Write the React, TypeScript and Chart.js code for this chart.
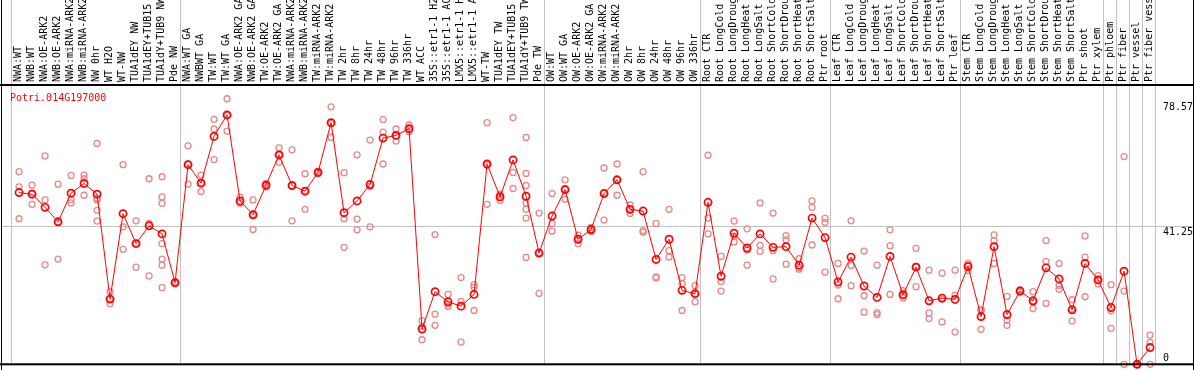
import React, { useEffect, useRef } from "react";
import { Chart, registerables } from "chart.js";

Chart.register(...registerables);

const GENE_ID = "Potri.014G197000";

const categories: string[] = [
  "NWA:WT", "NWB:WT", "NWA:OE-ARK2", "NWB:OE-ARK2", "NWA:miRNA-ARK2", "NWB:miRNA-ARK2",
  "NW 0hr", "WT H2O", "WT-NW", "TUA1dEY NW", "TUA1dEY+TUB15 NW", "TUA1dY+TUB9 NW", "Pde NW",
  "NWA:WT GA", "NWBWT GA", "TW:WT", "TW:WT GA", "NWA:OE-ARK2 GA", "NWB:OE-ARK2 GA",
  "TW:OE-ARK2", "TW:OE-ARK2 GA", "NWA:miRNA-ARK2 GA", "NWB:miRNA-ARK2 GA", "TW:miRNA-ARK2",
  "TW:miRNA-ARK2 GA", "TW 2hr", "TW 8hr", "TW 24hr", "TW 48hr", "TW 96hr", "TW 336hr",
  "WT ACC", "35S::etr1-1 H2O", "35S::etr1-1 ACC", "LMX5::etr1-1 H2O", "LMX5::etr1-1 ACC",
  "WT-TW", "TUA1dEY TW", "TUA1dEY+TUB15 TW", "TUA1dY+TUB9 TW", "Pde TW",
  "OW:WT", "OW:WT GA", "OW:OE-ARK2", "OW:OE-ARK2 GA", "OW:miRNA-ARK2", "OW:miRNA-ARK2 GA",
  "OW 2hr", "OW 8hr", "OW 24hr", "OW 48hr", "OW 96hr", "OW 336hr",
  "Root CTR", "Root LongCold", "Root LongDrought", "Root LongHeat", "Root LongSalt",
  "Root ShortCold", "Root ShortDrought", "Root ShortHeat", "Root ShortSalt", "Ptr root",
  "Leaf CTR", "Leaf LongCold", "Leaf LongDrought", "Leaf LongHeat", "Leaf LongSalt",
  "Leaf ShortCold", "Leaf ShortDrought", "Leaf ShortHeat", "Leaf ShortSalt", "Ptr leaf",
  "Stem CTR", "Stem LongCold", "Stem LongDrought", "Stem LongHeat", "Stem LongSalt",
  "Stem ShortCold", "Stem ShortDrought", "Stem ShortHeat", "Stem ShortSalt", "Ptr shoot",
  "Ptr xylem", "Ptr phloem", "Ptr fiber", "Ptr vessel", "Ptr fiber vessel",
];

const means: number[] = [
  51.1, 50.6, 46.7, 42.4, 50.9, 53.8, 50.6, 19.4, 44.8, 35.9, 41.2, 38.8, 24.3,
  59.4, 53.9, 67.8, 74.2, 48.6, 44.5, 53.3, 62.3, 53.2, 51.5, 57.1, 71.9, 45.1,
  48.6, 53.5, 67.3, 68.1, 70.1, 10.5, 21.6, 18.6, 17.3, 20.8, 59.6, 49.8, 60.8,
  50.0, 33.1,
  44.1, 52.0, 37.2, 40.1, 50.8, 54.9, 46.1, 45.6, 31.2, 37.2, 22.0, 21.0,
  48.2, 26.2, 39.0, 34.6, 38.8, 34.8, 35.0, 29.5, 43.5, 37.7,
  24.5, 31.9, 23.3, 19.9, 32.1, 20.7, 28.9, 18.9, 19.7, 19.3,
  29.1, 14.2, 35.0, 14.8, 21.8, 18.9, 28.7, 25.4, 16.2, 30.0, 25.1,
  16.9, 27.7, 0, 5.0,
];

const replicates: number[][] = [
  [57.3, 52.8, 43.3], [53.3, 50.9, 47.6], [62.0, 48.9, 29.6], [53.6, 42.3, 31.3],
  [56.2, 49.0, 48.0], [56.3, 55.2, 50.3], [65.7, 49.4, 48.9, 45.8, 42.6], [21.6, 19.4, 18.0],
  [59.4, 40.9, 34.2], [42.7, 36.1, 28.9], [55.2, 41.9, 26.3],
  [55.8, 49.8, 47.9, 35.9, 31.3, 29.5, 22.8], [24.6, 24.3, 24.0],
  [65.0, 59.6, 53.6], [56.3, 54.0, 51.4], [72.9, 70.0, 60.9], [79.0, 74.0, 69.4],
  [49.7, 48.2, 47.9], [48.9, 44.5, 40.1], [53.8, 53.3, 52.8], [64.4, 62.4, 60.1],
  [63.8, 53.1, 42.7], [56.7, 51.7, 46.1], [57.5, 57.1, 56.7], [76.6, 71.6, 67.5],
  [57.0, 43.3, 34.8], [62.3, 43.2, 40.0], [66.7, 52.9, 40.9], [72.8, 69.1, 59.6],
  [70.0, 67.9, 66.4], [71.2, 70.0, 69.2], [13.0, 11.2, 7.3], [38.6, 14.9, 11.6],
  [20.8, 17.9, 17.2], [25.8, 18.7, 6.6], [23.7, 22.9, 16.0], [71.9, 59.3, 47.6],
  [50.6, 50.1, 48.7], [73.4, 57.1, 52.3], [67.5, 56.8, 53.2, 48.0, 46.1, 43.5, 31.8],
  [45.0, 33.2, 21.1],
  [50.8, 41.9, 39.6], [54.9, 52.0, 49.1], [38.4, 37.3, 35.9], [40.7, 40.1, 39.5],
  [58.4, 51.1, 42.9], [59.6, 54.8, 50.3], [47.4, 46.0, 44.9], [57.3, 39.8, 39.3],
  [41.9, 26.0, 25.7], [46.1, 33.8, 31.9], [25.8, 23.9, 16.0], [23.4, 21.0, 18.6],
  [62.2, 43.5, 38.8], [32.1, 24.6, 21.8], [42.6, 38.1, 36.4], [40.3, 34.0, 29.5],
  [48.0, 35.4, 33.6], [45.0, 33.8, 25.4], [38.3, 37.0, 29.8], [31.4, 28.8, 28.3],
  [48.6, 46.7, 35.5], [43.4, 42.2, 27.4],
  [30.0, 23.6, 19.5], [42.7, 29.4, 23.4], [33.7, 20.4, 15.5], [29.5, 15.4, 14.8],
  [40.0, 35.3, 20.8], [21.9, 20.5, 19.7], [34.5, 29.1, 23.1], [28.0, 15.3, 13.6],
  [27.1, 19.4, 12.6], [28.0, 20.6, 9.6],
  [30.0, 29.4, 27.9], [16.2, 16.0, 10.4], [38.5, 36.7, 30.0], [20.2, 13.1, 11.6],
  [22.1, 21.8, 21.5], [21.6, 18.5, 16.6], [36.8, 30.6, 18.1], [30.0, 23.5, 22.3],
  [19.2, 16.5, 12.9], [38.2, 31.9, 20.1], [26.4, 25.0, 23.9],
  [23.7, 15.9, 10.7], [61.8, 21.8, 0], [0, 0, 0], [8.7, 6.5, 0],
];

const groupBoundaries: number[] = [0, 13, 41, 53, 63, 73, 84, 85, 86, 87, 88];
const yMarkValues: number[] = [78.57, 41.25, 0];
const yMarkLabels: string[] = ["78.57", "41.25", "0"];
const gridValue = 41.25;
const Y_MAX = 82.8;
const X_SHIFT = 0.62;

const FONT = '10px "DejaVu Sans Mono", "Liberation Mono", monospace';

export default function App() {
  const ref = useRef<HTMLCanvasElement>(null);

  useEffect(() => {
    const canvas = ref.current;
    if (!canvas) return;

    const meanPoints = means.map((v, i) => ({ x: i, y: v }));
    const repPoints = replicates.flatMap((reps, i) => reps.map((v) => ({ x: i, y: v })));

    const decor = {
      id: "decor",
      beforeDraw(chart: any) {
        const { ctx, width, height } = chart;
        ctx.save();
        ctx.fillStyle = "#ffffff";
        ctx.fillRect(0, 0, width, height);
        ctx.restore();
      },
      beforeDatasetsDraw(chart: any) {
        const { ctx, chartArea, scales, width } = chart;
        const xs = scales.x;
        const ys = scales.y;
        ctx.save();
        ctx.strokeStyle = "#c0c0c0";
        ctx.lineWidth = 1;
        for (const k of groupBoundaries) {
          const px = Math.round(xs.getPixelForValue(k - X_SHIFT)) + 0.5;
          ctx.beginPath();
          ctx.moveTo(px, 0);
          ctx.lineTo(px, chartArea.bottom);
          ctx.stroke();
        }
        const gy = Math.round(ys.getPixelForValue(gridValue)) + 0.5;
        ctx.beginPath();
        ctx.moveTo(1, gy);
        ctx.lineTo(width - 1, gy);
        ctx.stroke();
        ctx.restore();
      },
      afterDraw(chart: any) {
        const { ctx, chartArea, scales, width, height } = chart;
        const xs = scales.x;
        const ys = scales.y;
        ctx.save();
        ctx.fillStyle = "#000000";
        ctx.fillRect(0, chartArea.top - 2, width, 2);
        ctx.fillRect(1, 0, 1, height);
        ctx.fillRect(width - 1, 0, 1, height);
        ctx.fillRect(0, chartArea.bottom - 1, width, 2);

        ctx.font = FONT;
        ctx.fillStyle = "#000000";
        ctx.textAlign = "left";
        ctx.textBaseline = "middle";
        categories.forEach((label, i) => {
          const px = xs.getPixelForValue(i) - 0.5;
          ctx.save();
          ctx.translate(px, chartArea.top - 4);
          ctx.rotate(-Math.PI / 2);
          ctx.fillText(label, 0, 0);
          ctx.restore();
        });

        ctx.fillStyle = "#ff0000";
        ctx.textBaseline = "alphabetic";
        ctx.fillText(GENE_ID, 10, chartArea.top + 15);

        ctx.fillStyle = "#000000";
        yMarkValues.forEach((v, i) => {
          const py = ys.getPixelForValue(v);
          const base = v === 0 ? py - 3.5 : py + 9.5;
          ctx.fillText(yMarkLabels[i], chartArea.right + 8, base);
        });
        ctx.restore();
      },
    };

    const chart = new Chart(canvas, {
      type: "line",
      data: {
        datasets: [
          {
            label: "mean",
            data: meanPoints,
            borderColor: "#ff0000",
            borderWidth: 1,
            tension: 0,
            pointRadius: 3.6,
            pointBorderWidth: 1.7,
            pointBorderColor: "#ff0000",
            pointBackgroundColor: "rgba(0,0,0,0)",
            pointStyle: "circle",
            clip: false as any,
          },
          {
            label: "replicates",
            data: repPoints,
            showLine: false,
            pointRadius: 3,
            pointBorderWidth: 1.3,
            pointBorderColor: "rgb(230,136,136)",
            pointBackgroundColor: "rgba(0,0,0,0)",
            pointStyle: "circle",
            clip: false as any,
          },
        ],
      },
      options: {
        animation: false,
        responsive: false,
        maintainAspectRatio: false,
        events: [],
        layout: { padding: { left: 11, right: 39, top: 86, bottom: 1 } },
        plugins: { legend: { display: false }, tooltip: { enabled: false } },
        scales: {
          x: {
            type: "linear",
            display: false,
            min: -X_SHIFT,
            max: categories.length - X_SHIFT,
          },
          y: { type: "linear", display: false, min: 0, max: Y_MAX },
        },
      },
      plugins: [decor],
    });

    return () => chart.destroy();
  }, []);

  return (
    <canvas
      ref={ref}
      width={1194}
      height={370}
      style={{ position: "absolute", left: 0, top: 0, display: "block", width: 1194, height: 370 }}
    />
  );
}
